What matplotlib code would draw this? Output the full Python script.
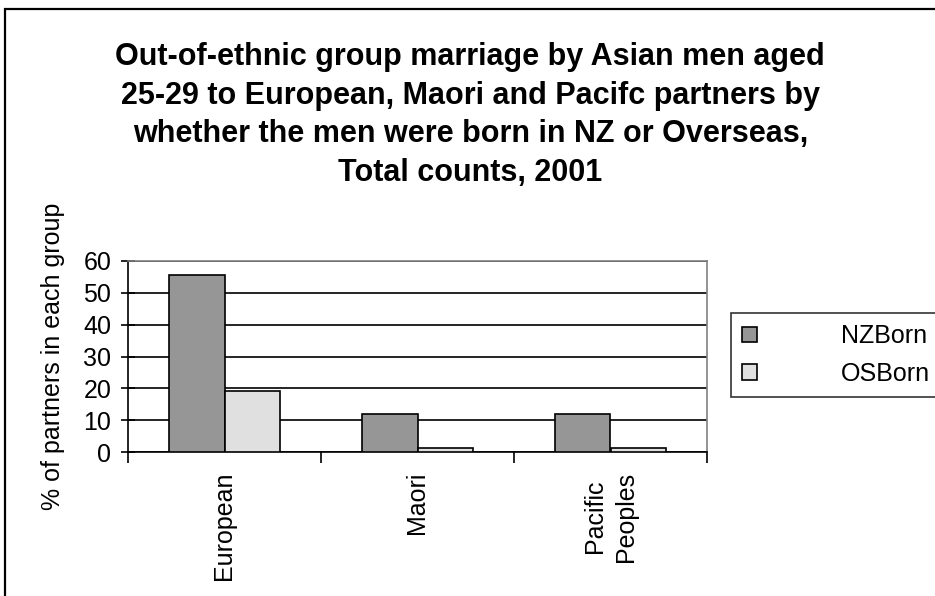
import numpy as np
import matplotlib
matplotlib.use("Agg")
import matplotlib.pyplot as plt
from matplotlib.patches import Rectangle

plt.rcParams["font.family"] = ["Liberation Sans", "DejaVu Sans"]

categories = ["European", "Maori", "Pacific\nPeoples"]
nz_born = [55.6, 12.0, 12.0]
os_born = [19.2, 1.2, 1.2]
series_names = ["NZBorn", "OSBorn"]
y_ticks = [0, 10, 20, 30, 40, 50, 60]

title = ("Out-of-ethnic group marriage by Asian men aged\n"
         "25-29 to European, Maori and Pacifc partners by\n"
         "whether the men were born in NZ or Overseas,\n"
         "Total counts, 2001")

W, H = 935, 596
fig = plt.figure(figsize=(W / 100, H / 100), dpi=100)
ax = fig.add_axes([128 / W, 1 - 452 / H, (707 - 128) / W, (452 - 261) / H])

# outer chart frame (cut off at right/bottom as in the original)
fig.patches.append(Rectangle((5 / W, -0.05), 1.2, 1.05 - 9 / H,
                             transform=fig.transFigure, fill=False,
                             edgecolor="black", linewidth=1.6))

x = np.arange(len(categories))
w = 0.285
b1 = ax.bar(x - w / 2, nz_born, w, color="#969696", edgecolor="black",
            linewidth=1.2, zorder=3, label=series_names[0])
b2 = ax.bar(x + w / 2, os_born, w, color="#e0e0e0", edgecolor="black",
            linewidth=1.2, zorder=3, label=series_names[1])

ax.set_xlim(-0.5, len(categories) - 0.5)
ax.set_ylim(0, 60)
ax.set_yticks(y_ticks)
ax.set_yticklabels([str(t) for t in y_ticks], fontsize=18)
ax.yaxis.grid(True, color="black", linewidth=1.2, zorder=0)
ax.set_axisbelow(True)

ax.set_xticks(x)
ax.set_xticklabels(categories, rotation=90, fontsize=18,
                   multialignment="center", linespacing=1.4)
ax.tick_params(axis="x", length=0, pad=14)
# category separator ticks
ax.set_xticks(np.arange(-0.5, len(categories), 1.0), minor=True)
ax.tick_params(axis="x", which="minor", length=8, width=1.2, direction="out")
ax.tick_params(axis="y", length=10, width=1.2, direction="inout", pad=7)

for s in ["left", "bottom"]:
    ax.spines[s].set_color("black")
    ax.spines[s].set_linewidth(1.2)
for s in ["top", "right"]:
    ax.spines[s].set_color("#808080")
    ax.spines[s].set_linewidth(1.2)

ax.set_ylabel("% of partners in each group", fontsize=18, labelpad=13)

fig.text(0.503, 1 - 42 / H, title, ha="center", va="top", fontsize=22,
         fontweight="bold", linespacing=1.38)

leg = fig.legend(handles=[b1, b2], labels=series_names,
                 loc="upper left", bbox_to_anchor=(731 / W, 1 - 313 / H),
                 fontsize=18, handlelength=0.6, handleheight=0.6,
                 handletextpad=3.35, borderpad=0.45, labelspacing=0.55,
                 frameon=True, fancybox=False, borderaxespad=0)
leg.get_frame().set_edgecolor("black")
leg.get_frame().set_linewidth(1.2)

fig.savefig("out.png", dpi=100)
